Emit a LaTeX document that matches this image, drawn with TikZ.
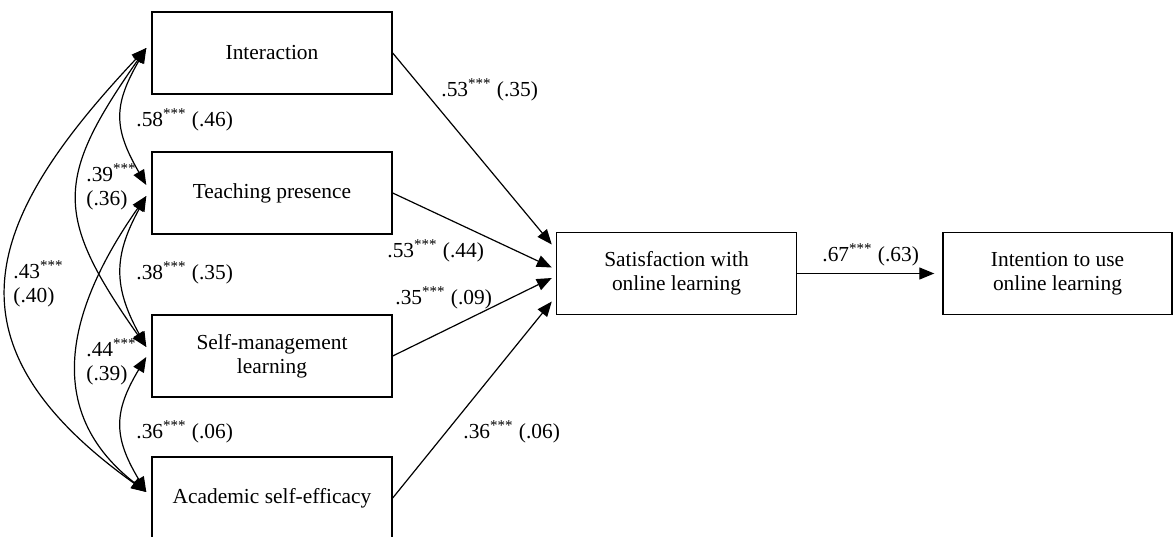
\documentclass[tikz,border=0pt]{standalone}
\usepackage{fontspec}
\setmainfont{Liberation Serif}
\usepackage{tikz}
\usetikzlibrary{arrows.meta, positioning}

\begin{document}
\begin{tikzpicture}[x=0.5pt, y=-0.5pt,
            var/.style={draw, rectangle, line width=0.7pt, minimum width=120pt, minimum height=41pt, align=center, inner sep=0pt, font=\fontsize{10.7}{12}\selectfont},
            coef/.style={anchor=west, inner sep=0pt, align=left, font=\fontsize{10.7}{12}\selectfont},
            effect/.style={-{Triangle[length=7.5pt, width=6pt]}, line width=0.6pt},
            cov/.style={{Triangle[length=7.5pt, width=6pt]}-{Triangle[length=7.5pt, width=6pt]}, line width=0.6pt}]

            \useasboundingbox (0,0) rectangle (1173,536);

            \node[var] (inter) at (272,53) {Interaction};
            \node[var] (teach) at (272,193) {Teaching presence};
            \node[var] (selfm) at (272,356) {Self-management\\learning};
            \node[var] (acad) at (272,498) {Academic self-efficacy};
            \node[var] (satis) at (676.5,273.5) {Satisfaction with\\online learning};
            \node[var, minimum width=114.5pt] (intent) at (1057.5,273.5) {Intention to use\\online learning};

            \node[coef] (b1) at (441,90) {.53\textsuperscript{***} (.35)};
            \node[coef] (b2) at (387,251) {.53\textsuperscript{***} (.44)};
            \node[coef] (b3) at (395,298) {.35\textsuperscript{***} (.09)};
            \node[coef] (b4) at (463,432) {.36\textsuperscript{***} (.06)};
            \node[coef] (b5) at (822,255) {.67\textsuperscript{***} (.63)};

            \node[coef] (r1) at (136,120) {.58\textsuperscript{***} (.46)};
            \node[coef] (r2) at (86,187) {.39\textsuperscript{***}\\(.36)};
            \node[coef] (r3) at (13,284) {.43\textsuperscript{***}\\(.40)};
            \node[coef] (r4) at (136,273) {.38\textsuperscript{***} (.35)};
            \node[coef] (r5) at (86,361.5) {.44\textsuperscript{***}\\(.39)};
            \node[coef] (r6) at (136,432) {.36\textsuperscript{***} (.06)};

            \draw[effect] (inter.east) -- ([xshift=-2pt, yshift=14.5pt]satis.west);
            \draw[effect] (teach.east) -- ([xshift=-2pt, yshift=3pt]satis.west);
            \draw[effect] (selfm.east) -- ([xshift=-2pt, yshift=-2.25pt]satis.west);
            \draw[effect] (acad.east) -- ([xshift=-2pt, yshift=-14pt]satis.west);
            \draw[effect, shorten >=4pt] (satis) -- (intent);

            \draw[cov] ([xshift=-2.5pt, yshift=2.5pt]inter.west) .. controls +(-33,57) and +(-33,-57) .. ([xshift=-2.5pt, yshift=4pt]teach.west);
            \draw[cov] ([xshift=-2.5pt, yshift=2.5pt]inter.west) .. controls +(-92,131) and +(-92,-131) .. ([xshift=-2.5pt, yshift=4.5pt]selfm.west);
            \draw[cov] ([xshift=-2.5pt, yshift=2.5pt]inter.west) .. controls +(-160,170) and +(-210,-150) .. ([xshift=-2.5pt, yshift=3pt]acad.west);
            \draw[cov] ([xshift=-2.5pt, yshift=-1.5pt]teach.west) .. controls +(-33,60) and +(-33,-60) .. ([xshift=-2.5pt, yshift=4.5pt]selfm.west);
            \draw[cov] ([xshift=-2.5pt, yshift=-1.5pt]teach.west) .. controls +(-70,100) and +(-112,-87) .. ([xshift=-2.5pt, yshift=3pt]acad.west);
            \draw[cov] ([xshift=-2.5pt, yshift=-0.5pt]selfm.west) .. controls +(-33,55) and +(-33,-55) .. ([xshift=-2.5pt, yshift=3pt]acad.west);
        \end{tikzpicture}
\end{document}
